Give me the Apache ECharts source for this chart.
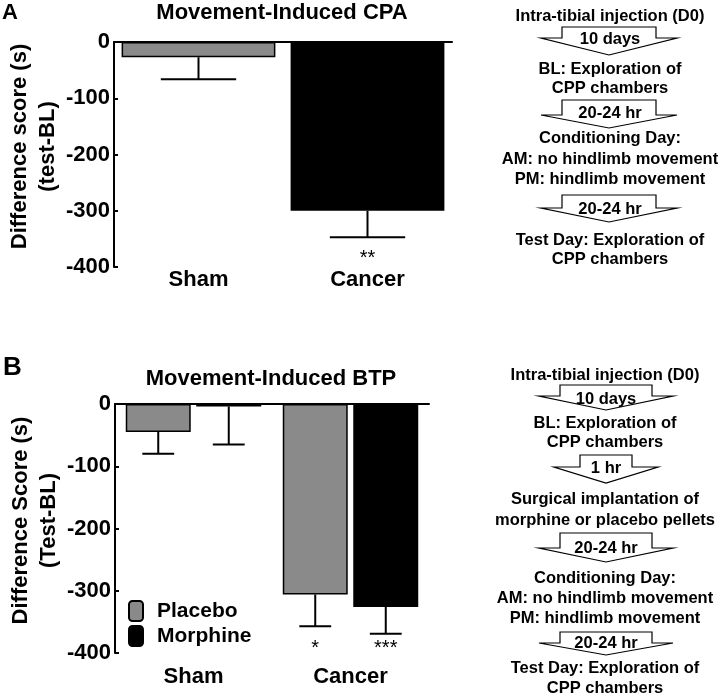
<!DOCTYPE html>
<html><head><meta charset="utf-8">
<script src="https://cdn.jsdelivr.net/npm/echarts@6/dist/echarts.min.js"></script>
<style>html,body{margin:0;padding:0;background:#fff}#c{width:720px;height:695px}</style>
</head><body><div id="c"></div>
<script>
// ---------- Panel A data ----------
const categoriesA = ['Sham', 'Cancer'];
const meanA = [-27, -300];
const semA = [39, 47];
const sigA = ['', '**'];

// ---------- Panel B data ----------
const categoriesB = ['Sham', 'Cancer'];
const seriesNamesB = ['Placebo', 'Morphine'];
const placeboB = [-45, -306];
const placeboSemB = [35, 51];
const placeboSigB = ['', '*'];
const morphineB = [-4, -326];
const morphineSemB = [61, 43];
const morphineSigB = ['', '***'];

// ---------- Flowchart texts ----------
const flowTextA = ['Intra-tibial injection (D0)', 'BL: Exploration of', 'CPP chambers',
  'Conditioning Day:', 'AM: no hindlimb movement', 'PM: hindlimb movement',
  'Test Day: Exploration of', 'CPP chambers'];
const flowArrowTextA = ['10 days', '20-24 hr', '20-24 hr'];
const flowTextB = ['Intra-tibial injection (D0)', 'BL: Exploration of', 'CPP chambers',
  'Surgical implantation of', 'morphine or placebo pellets',
  'Conditioning Day:', 'AM: no hindlimb movement', 'PM: hindlimb movement',
  'Test Day: Exploration of', 'CPP chambers'];
const flowArrowTextB = ['10 days', '1 hr', '20-24 hr', '20-24 hr'];

// ---------- styling ----------
const FONT = "'Liberation Sans', Arial, Helvetica, sans-serif";
const GREY = '#8a8a8a';
const BLACK = '#000000';
const colorsA = [GREY, BLACK];

function errSeries(xi, yi, mean, sem, sig, sIdx, nSeries, catGap, barGap, sigY) {
  return {
    type: 'custom', xAxisIndex: xi, yAxisIndex: yi, z: 5, silent: true,
    data: mean.map((m, i) => [i, m, sem[i]]),
    encode: { x: 0, y: 1 },
    renderItem: function (params, api) {
      const cat = api.value(0), m = api.value(1), e = api.value(2);
      const s = sig[params.dataIndex];
      const band = api.size([1, 0])[0];
      const bw = band * (1 - catGap) / (nSeries + (nSeries - 1) * barGap);
      const total = nSeries * bw + (nSeries - 1) * bw * barGap;
      const p0 = api.coord([cat, m]);
      const cx = p0[0] - total / 2 + sIdx * bw * (1 + barGap) + bw / 2;
      const y1 = p0[1];
      const y2 = api.coord([cat, m - e])[1];
      const half = bw * 0.245;
      const children = [
        { type: 'line', shape: { x1: cx, y1: y1, x2: cx, y2: y2 }, style: { stroke: '#000', lineWidth: 2 } },
        { type: 'line', shape: { x1: cx - half, y1: y2, x2: cx + half, y2: y2 }, style: { stroke: '#000', lineWidth: 2 } }
      ];
      if (s) {
        children.push({ type: 'text', x: cx, y: api.coord([cat, sigY])[1],
          style: { text: s, textAlign: 'center', textVerticalAlign: 'middle', font: '20px ' + FONT, fill: '#000' } });
      }
      return { type: 'group', children: children };
    }
  };
}

function txt(t, x, y, size, weight) {
  return { type: 'text', x: x, y: y, z: 20,
    style: { text: t, textAlign: 'center', textVerticalAlign: 'middle',
      font: (weight || 'bold') + ' ' + size + 'px ' + FONT, fill: '#000' } };
}
function arrow(cx, top, head, tip, sh, hh) {
  return { type: 'polygon', z: 10,
    shape: { points: [[cx - sh, top], [cx + sh, top], [cx + sh, head], [cx + hh, head], [cx, tip], [cx - hh, head], [cx - sh, head]] },
    style: { fill: '#fff', stroke: '#000', lineWidth: 1.2 } };
}

const graphics = [];
// panel letters and titles
graphics.push({ type: 'text', x: 2, y: 13, style: { text: 'A', textVerticalAlign: 'middle', font: 'bold 22px ' + FONT, fill: '#000' } });
graphics.push(txt('Movement-Induced CPA', 282, 13, 22));
graphics.push({ type: 'text', x: 3, y: 368, style: { text: 'B', textVerticalAlign: 'middle', font: 'bold 26px ' + FONT, fill: '#000' } });
graphics.push(txt('Movement-Induced BTP', 271, 379, 22));

// Flowchart A
(function () {
  const cx = 610, fs = 16.5;
  const ys = [16, 69, 88, 138, 159, 179, 240, 259];
  flowTextA.forEach((t, i) => graphics.push(txt(t, cx, ys[i], fs)));
  const arrs = [[27, 38, 55], [100, 115, 128], [195, 208, 222]];
  const labY = [39, 113, 209];
  arrs.forEach((a, i) => {
    graphics.push(arrow(cx - 1, a[0], a[1], a[2], 47, 68));
    graphics.push(txt(flowArrowTextA[i], cx, labY[i], fs));
  });
})();
// Flowchart B
(function () {
  const cx = 605, fs = 16.5;
  const ys = [375, 423, 442, 499, 520, 578, 598, 618, 668, 688];
  flowTextB.forEach((t, i) => graphics.push(txt(t, cx, ys[i], fs)));
  const arrs = [[385, 396, 410, 46, 67], [455, 467, 483, 26, 52], [533, 548, 562, 46, 67], [632, 643, 655, 46, 67]];
  const labY = [399, 468, 548, 643];
  arrs.forEach((a, i) => {
    graphics.push(arrow(cx + 1, a[0], a[1], a[2], a[3], a[4]));
    graphics.push(txt(flowArrowTextB[i], cx + 1, labY[i], fs));
  });
})();

const yAxisCommon = {
  type: 'value', min: -400, max: 0, interval: 100,
  nameLocation: 'middle', nameRotate: 90, nameGap: 50,
  nameTextStyle: { fontFamily: FONT, fontWeight: 'bold', fontSize: 22, lineHeight: 28, color: '#000', padding: [0, 0, 0, 16] },
  axisLine: { show: true, lineStyle: { color: '#000', width: 2 } },
  axisTick: { show: true, inside: true, length: 4, lineStyle: { color: '#000', width: 2 } },
  axisLabel: { fontFamily: FONT, fontWeight: 'bold', fontSize: 22, color: '#000', margin: 4 },
  splitLine: { show: false }
};

const option = {
  animation: false,
  backgroundColor: '#fff',
  grid: [
    { left: 114, top: 42, width: 338, height: 225 },
    { left: 115, top: 404, width: 314, height: 249 }
  ],
  xAxis: [
    { type: 'category', gridIndex: 0, data: categoriesA, position: 'bottom',
      axisLine: { show: false, onZero: false }, axisTick: { show: false },
      axisLabel: { fontFamily: FONT, fontWeight: 'bold', fontSize: 22, color: '#000', margin: 2 } },
    { type: 'category', gridIndex: 0, data: categoriesA, position: 'top',
      axisLine: { show: true, onZero: false, lineStyle: { color: '#000', width: 2 } }, axisTick: { show: false }, axisLabel: { show: false } },
    { type: 'category', gridIndex: 1, data: categoriesB, position: 'bottom',
      axisLine: { show: false, onZero: false }, axisTick: { show: false },
      axisLabel: { fontFamily: FONT, fontWeight: 'bold', fontSize: 22, color: '#000', margin: 13 } },
    { type: 'category', gridIndex: 1, data: categoriesB, position: 'top',
      axisLine: { show: true, onZero: false, lineStyle: { color: '#000', width: 2 } }, axisTick: { show: false }, axisLabel: { show: false } }
  ],
  yAxis: [
    Object.assign({}, yAxisCommon, { gridIndex: 0, name: 'Difference score (s)\n(test-BL)' }),
    Object.assign({}, yAxisCommon, { gridIndex: 1, name: 'Difference Score (s)\n(Test-BL)' })
  ],
  legend: {
    data: seriesNamesB, orient: 'vertical', left: 128, top: 600, padding: 0,
    itemWidth: 14, itemHeight: 20, itemGap: 3, icon: 'roundRect', selectedMode: false,
    textStyle: { fontFamily: FONT, fontWeight: 'bold', fontSize: 21, lineHeight: 20, color: '#000', padding: [0, 0, 0, 9] }
  },
  series: [
    { type: 'bar', name: 'A', xAxisIndex: 0, yAxisIndex: 0, barCategoryGap: '9%',
      data: meanA.map((v, i) => ({ value: v, itemStyle: { color: colorsA[i] } })),
      itemStyle: { borderColor: '#000', borderWidth: 1.5 } },
    errSeries(0, 0, meanA, semA, sigA, 0, 1, 0.09, 0, -384),
    { type: 'bar', name: seriesNamesB[0], xAxisIndex: 2, yAxisIndex: 1, barCategoryGap: '13.7%', barGap: '8.5%',
      data: placeboB, itemStyle: { color: GREY, borderColor: '#000', borderWidth: 1.5 } },
    { type: 'bar', name: seriesNamesB[1], xAxisIndex: 2, yAxisIndex: 1, barCategoryGap: '13.7%', barGap: '8.5%',
      data: morphineB, itemStyle: { color: BLACK, borderColor: '#000', borderWidth: 1.5 } },
    errSeries(2, 1, placeboB, placeboSemB, placeboSigB, 0, 2, 0.137, 0.085, -393),
    errSeries(2, 1, morphineB, morphineSemB, morphineSigB, 1, 2, 0.137, 0.085, -393)
  ],
  graphic: graphics
};

const chart = echarts.init(document.getElementById('c'), null, { renderer: 'canvas' });
chart.setOption(option);
</script>
</body></html>
